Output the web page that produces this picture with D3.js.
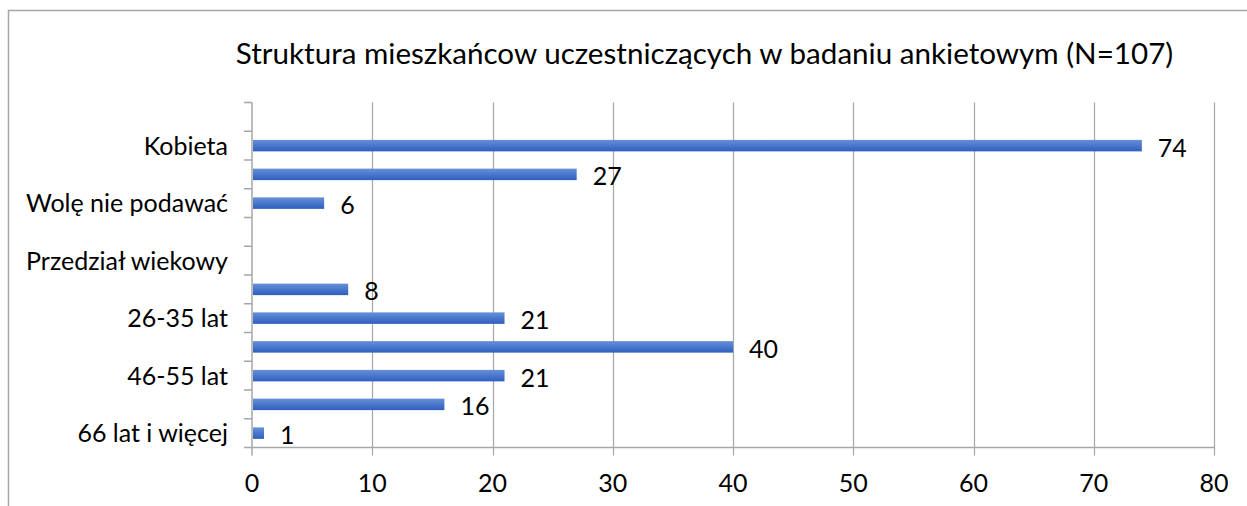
<!DOCTYPE html>
<html lang="pl">
<head>
  <meta charset="UTF-8">
  <title>Struktura mieszkańców</title>
  <script src="https://d3js.org/d3.v7.min.js"></script>
  <style>
    body { margin: 0; background: #fff; }
    text { font-family: Lato, "Open Sans", sans-serif; fill: #000; }
  </style>
</head>
<body>
  <div id="viz"></div>

  <script>
    // categories top to bottom (Excel shows only every other label)
    const categories = ['Płeć', 'Kobieta', 'Mężczyzna', 'Wolę nie podawać', '', 'Przedział wiekowy',
      '18-25 lat', '26-35 lat', '36-45 lat', '46-55 lat', '56-65 lat', '66 lat i więcej'];
    const values = [null, 74, 27, 6, null, null, 8, 21, 40, 21, 16, 1];
    const xTicks = [0, 10, 20, 30, 40, 50, 60, 70, 80];
    const title = 'Struktura mieszkańcow uczestniczących w badaniu ankietowym (N=107)';

    const W = 1247, H = 506;
    const plotL = 252, plotR = 1214, plotT = 102.5, plotB = 447.5;
    const fs = '25px';

    const svg = d3.select('#viz')
      .append('svg')
        .attr('width', W)
        .attr('height', H);

    // outer chart frame (only top and left visible in the crop)
    svg.append('path')
      .attr('d', `M8.5,${H + 2}V10.5H${W + 2}`)
      .attr('fill', 'none')
      .attr('stroke', '#a6a6a6')
      .attr('stroke-width', 1.5);

    const x = d3.scaleLinear().domain([0, 80]).range([plotL, plotR]);
    const y = d3.scaleBand().domain(d3.range(categories.length))
      .range([plotT, plotB]).paddingInner(0.6).paddingOuter(0.3);

    const defs = svg.append('defs');
    const grad = defs.append('linearGradient')
      .attr('id', 'barGrad').attr('x1', 0).attr('y1', 0).attr('x2', 0).attr('y2', 1);
    grad.append('stop').attr('offset', '0%').attr('stop-color', '#6690d8');
    grad.append('stop').attr('offset', '50%').attr('stop-color', '#4a77cc');
    grad.append('stop').attr('offset', '100%').attr('stop-color', '#2f5fbe');

    // vertical gridlines + tick marks below
    svg.append('g')
      .selectAll('line')
      .data(xTicks.slice(1))
      .join('line')
        .attr('x1', d => Math.round(x(d)) + 0.5)
        .attr('x2', d => Math.round(x(d)) + 0.5)
        .attr('y1', plotT)
        .attr('y2', plotB + 8)
        .attr('stroke', '#a6a6a6')
        .attr('stroke-width', 1.2);

    // x axis line
    svg.append('line')
      .attr('x1', plotL).attr('x2', plotR + 1)
      .attr('y1', plotB).attr('y2', plotB)
      .attr('stroke', '#a6a6a6').attr('stroke-width', 1.5);

    // y axis line + ticks at category boundaries
    svg.append('line')
      .attr('x1', plotL).attr('x2', plotL)
      .attr('y1', plotT).attr('y2', plotB + 8)
      .attr('stroke', '#a6a6a6').attr('stroke-width', 1.5);

    const bounds = d3.range(categories.length + 1).map(i => y.range()[0] + i * y.step());
    svg.append('g')
      .selectAll('line')
      .data(bounds)
      .join('line')
        .attr('x1', plotL - 8).attr('x2', plotL)
        .attr('y1', d => d).attr('y2', d => d)
        .attr('stroke', '#a6a6a6').attr('stroke-width', 1.5);

    // x tick labels
    svg.append('g')
      .selectAll('text')
      .data(xTicks)
      .join('text')
        .attr('x', d => x(d))
        .attr('y', 482)
        .attr('text-anchor', 'middle')
        .attr('dominant-baseline', 'central')
        .style('font-size', fs)
        .text(d => d);

    // category labels, every other one counted from the bottom
    const n = categories.length;
    svg.append('g')
      .selectAll('text')
      .data(categories.map((c, i) => ({ c, i })).filter(d => (n - 1 - d.i) % 2 === 0))
      .join('text')
        .attr('x', 228)
        .attr('y', d => y(d.i) + y.bandwidth() / 2 - 1)
        .attr('text-anchor', 'end')
        .attr('dominant-baseline', 'central')
        .style('font-size', fs)
        .text(d => d.c);

    const data = values.map((v, i) => ({ v, i })).filter(d => d.v != null);

    // bars
    svg.append('g')
      .selectAll('rect')
      .data(data)
      .join('rect')
        .attr('x', x(0) + 1)
        .attr('y', d => y(d.i))
        .attr('width', d => x(d.v) - x(0) - 1)
        .attr('height', y.bandwidth())
        .attr('fill', 'url(#barGrad)');

    // data labels
    svg.append('g')
      .selectAll('text')
      .data(data)
      .join('text')
        .attr('x', d => x(d.v) + 16)
        .attr('y', d => y(d.i) + y.bandwidth() / 2 + 1)
        .attr('dominant-baseline', 'central')
        .style('font-size', fs)
        .text(d => d.v);

    // title
    svg.append('text')
      .attr('x', 704.5)
      .attr('y', 52)
      .attr('text-anchor', 'middle')
      .attr('dominant-baseline', 'central')
      .style('font-size', '29.6px')
      .text(title);
  </script>
</body>
</html>
